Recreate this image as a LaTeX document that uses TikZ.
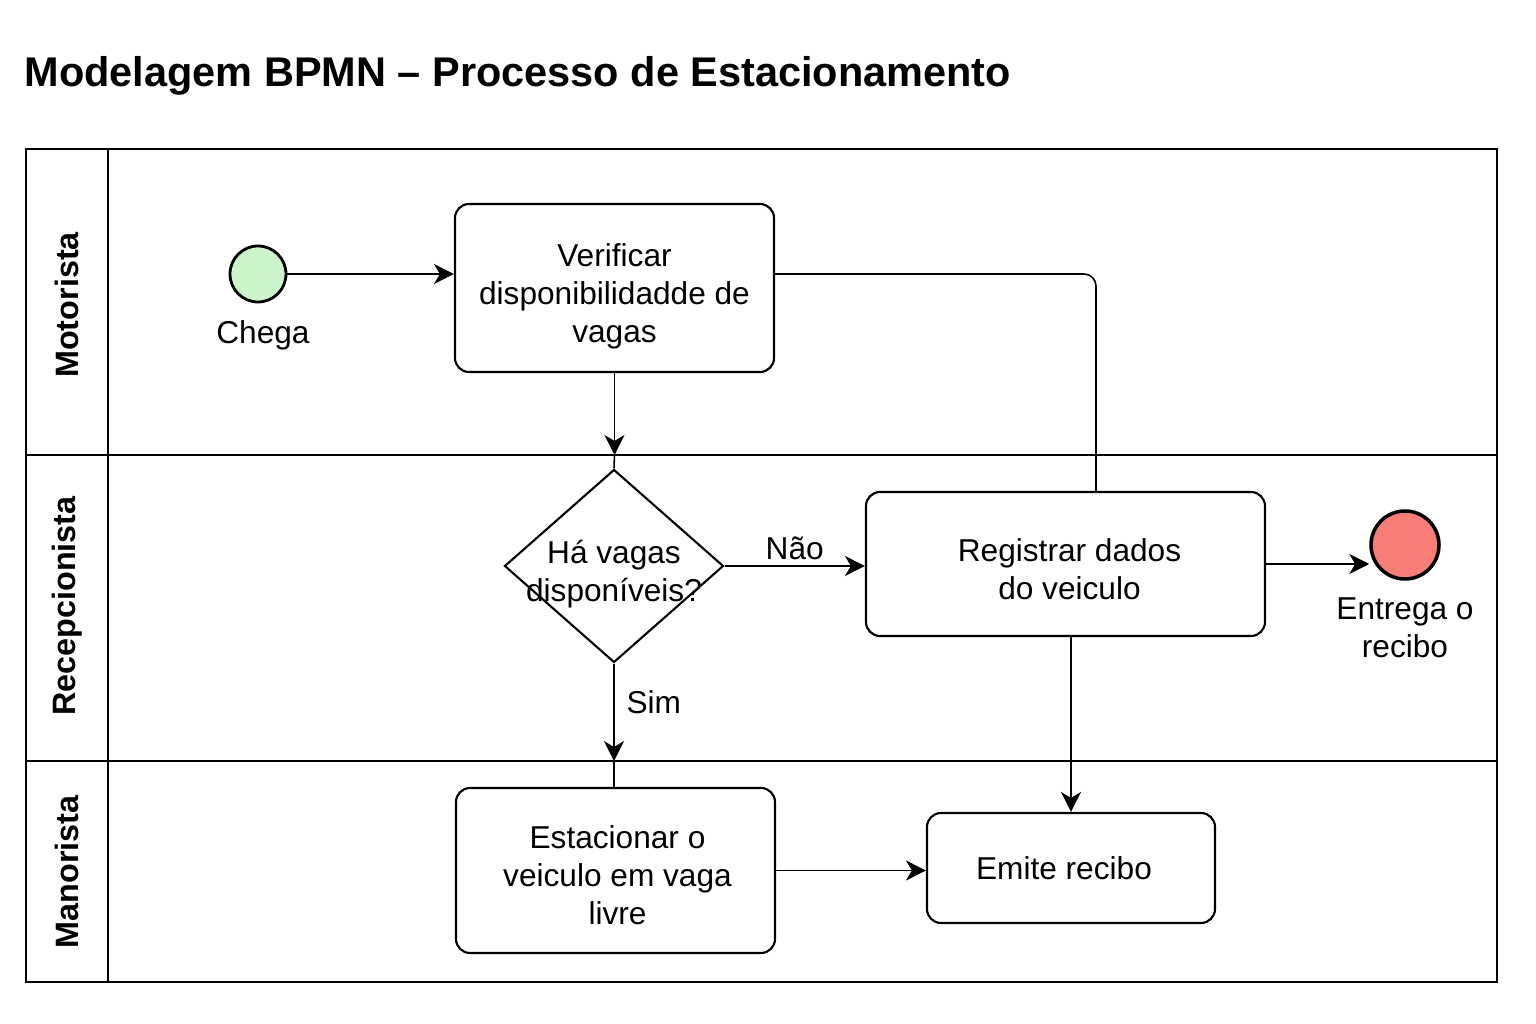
\documentclass[tikz,border=0pt]{standalone}
\usepackage{fontspec}
\setmainfont{Liberation Sans}
\usetikzlibrary{positioning, shapes.geometric, arrows.meta}
\definecolor{startgreen}{RGB}{204,245,204}
\definecolor{endred}{RGB}{248,124,120}

\begin{document}
\begin{tikzpicture}[x=0.1mm, y=-0.1mm,
    every node/.style={font=\fontsize{9}{10.8}\selectfont},
    task/.style={draw, line width=0.6pt, rounded corners=1.4mm, align=center},
    gateway/.style={draw, diamond, line width=0.6pt, minimum width=21.9mm, minimum height=19.3mm, inner sep=0pt},
    startev/.style={draw, circle, line width=0.8pt, fill=startgreen, minimum size=5.6mm, inner sep=0pt},
    endev/.style={draw, circle, line width=1pt, fill=endred, minimum size=6.8mm, inner sep=0pt},
    txt/.style={inner sep=0pt, align=center},
    lanename/.style={rotate=90, font=\fontsize{9.2}{11}\selectfont\bfseries},
    flow/.style={-{Stealth[length=2mm, width=2mm, inset=0.6mm]}, line width=0.45pt}]

    \useasboundingbox (0,0) rectangle (1536,1024);
    \node[anchor=base west, inner sep=0pt, font=\fontsize{11.8}{14}\selectfont\bfseries] (title) at (24,87) {Modelagem BPMN – Processo de Estacionamento};

    \draw[line width=0.5pt] (26,149) rectangle (1497,982);
    \draw[line width=0.5pt] (108,149) -- (108,982);
    \draw[line width=0.5pt] (26,455) coordinate (lane1) -- (1497,455);
    \draw[line width=0.5pt] (26,761) coordinate (lane2) -- (1497,761);
    \node[lanename] (motorista) at (67,305) {Motorista};
    \node[lanename] (recep) at (67,606) {Recepcionista};
    \node[lanename] (mano) at (67,872) {Manorista};

    \node[startev] (start) at (258,274) {};
    \node[txt, below=1.6mm of start, xshift=0.5mm] (chega) {Chega};
    \node[task, minimum width=31.9mm, minimum height=16.8mm,
        label={[txt, yshift=-0.8mm]center:{Verificar\\disponibilidadde de\\vagas}}] (ver) at (614.5,288) {};
    \node[gateway] (dec) at (614,566) {};
    \node[txt] (dectxt) at (614,574) {Há vagas\\disponíveis?};
    \node[task, minimum width=39.9mm, minimum height=14.4mm,
        label={[txt, xshift=0.4mm, yshift=-0.5mm]center:{Registrar dados\\do veiculo}}] (reg) at (1065.5,564) {};
    \node[endev] (fim) at (1405,545) {};
    \node[txt, below=1.6mm of fim] (entrega) {Entrega o\\recibo};
    \node[task, minimum width=31.9mm, minimum height=16.5mm,
        label={[txt, xshift=0.2mm, yshift=-0.5mm]center:{Estacionar o\\veiculo em vaga\\livre}}] (est) at (615.5,870.5) {};
    \node[task, minimum width=28.8mm, minimum height=11mm,
        label={[txt, xshift=-0.7mm]center:{Emite recibo}}] (emi) at (1071,868) {};
    \coordinate (regtop) at (1096,492);

    \draw[flow] (start) -- (start -| ver.west);
    \draw[flow] (ver.south) -- (ver.south |- lane1);
    \draw[line width=0.45pt] (ver.south |- lane1) -- (dec.north);
    \draw[line width=0.45pt, rounded corners=1.2mm] (ver.east |- start) -| (regtop);
    \draw[flow] (dec.east) -- node[above, inner sep=1.5pt] {Não} (dec.east -| reg.west);
    \draw[flow] (dec.south) -- node[right, pos=0.4] {Sim} (dec.south |- lane2);
    \draw[line width=0.45pt] (dec.south |- lane2) -- (dec.south |- est.north);
    \draw[flow] (reg.east) -- (reg.east -| fim.west);
    \draw[flow] (emi.north |- reg.south) -- (emi.north);
    \draw[flow] (est.east) -- (est.east -| emi.west);

\end{tikzpicture}
\end{document}
